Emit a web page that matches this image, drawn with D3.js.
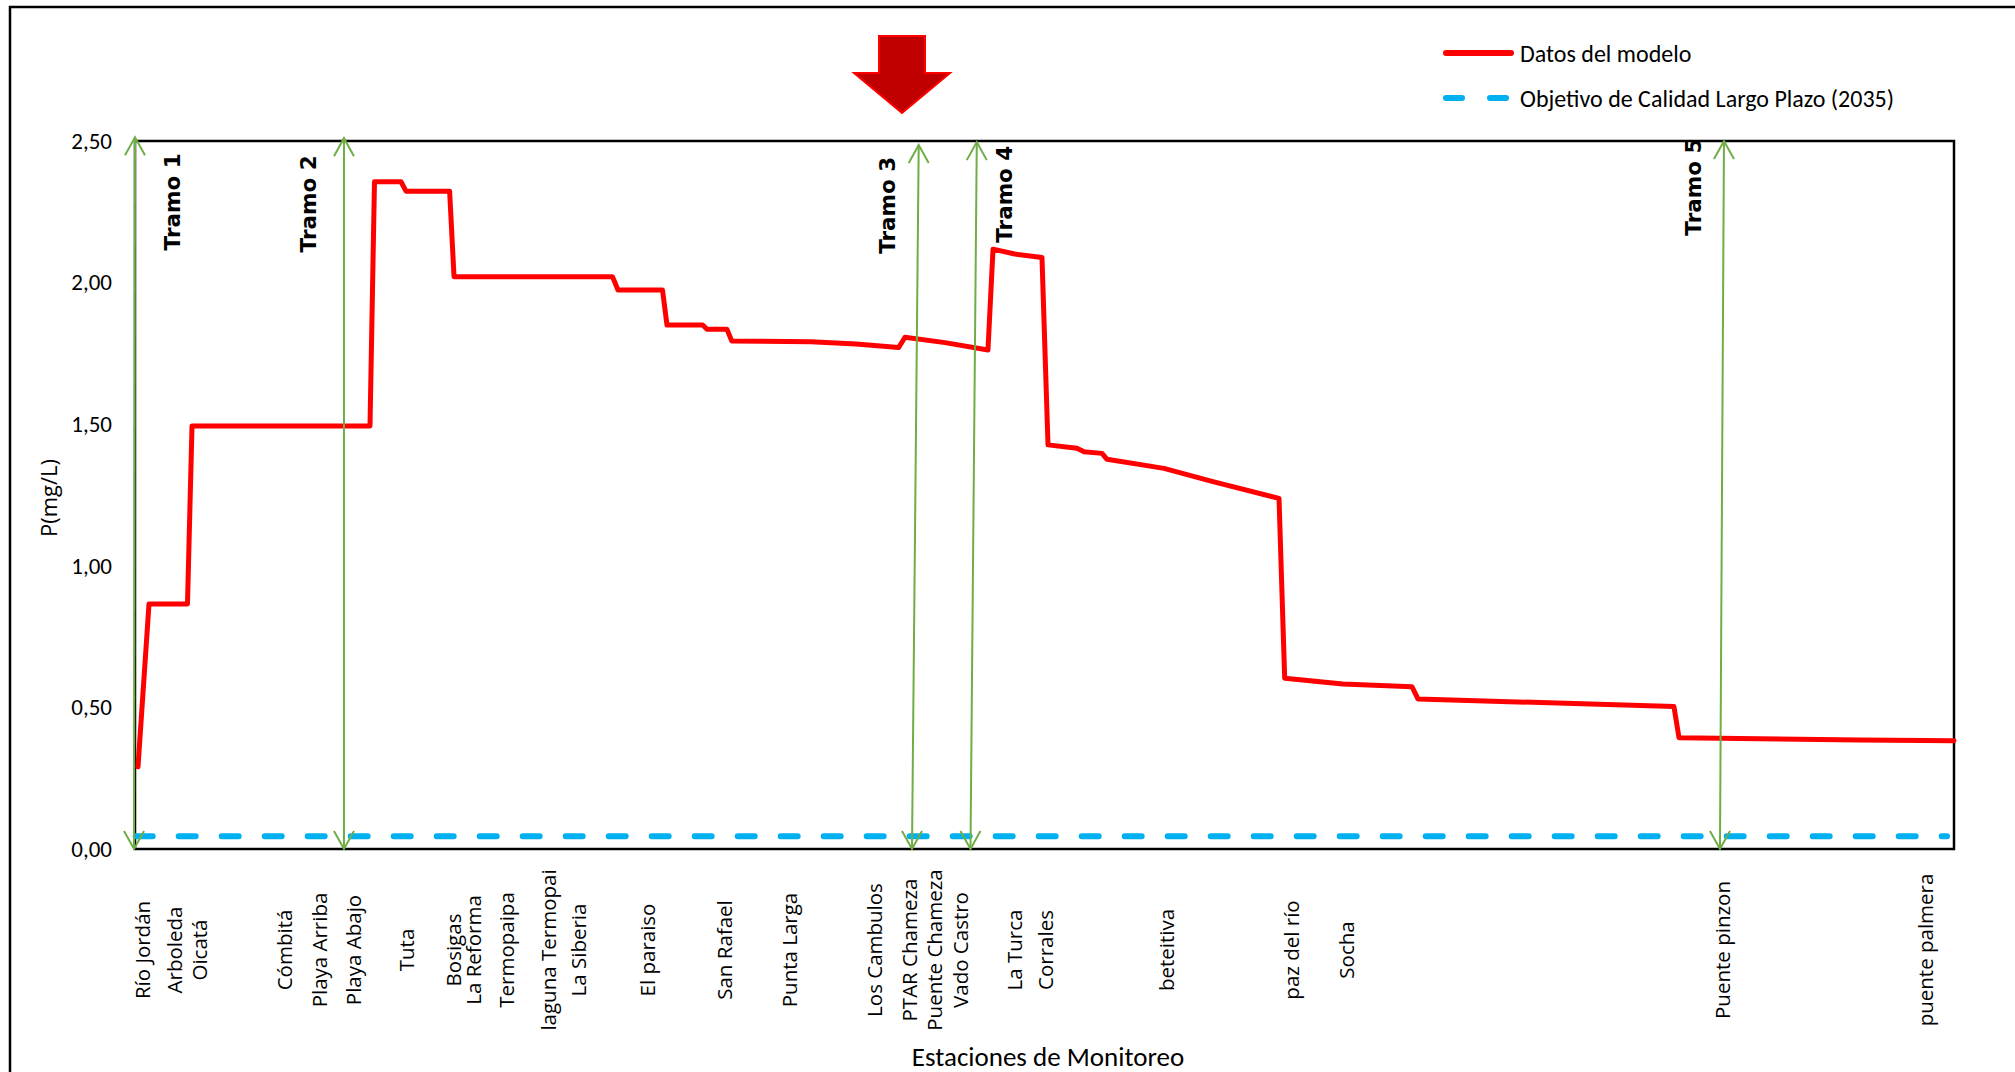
<!DOCTYPE html>
<html>
<head>
<meta charset="utf-8">
<script src="https://cdn.jsdelivr.net/npm/d3@7"></script>
<style>
  html, body { margin: 0; padding: 0; background: #fff; }
  svg { display: block; }
</style>
</head>
<body>
<svg id="chart" width="2015" height="1072"></svg>
<script>
// ---------------- DATA ----------------
// Model profile: abscissa (km along the river) and phosphorus (mg/L)
const modelKm = [0.43, 2.00, 7.50, 8.15, 33.59, 34.23, 38.02, 38.74, 44.97, 45.60,
  68.25, 69.04, 75.40, 76.04, 81.14, 81.76, 84.62, 85.29, 96.62, 103.06,
  109.16, 110.06, 115.78, 121.92, 122.64, 125.74, 129.64, 130.50, 134.64, 135.65,
  138.22, 138.94, 147.08, 154.08, 163.52, 164.33, 172.66, 182.52, 183.38, 219.97,
  220.69, 246.56, 260.0];
const modelP = [0.29, 0.865, 0.865, 1.494, 1.494, 2.356, 2.356, 2.323, 2.323, 2.021,
  2.021, 1.974, 1.974, 1.850, 1.850, 1.835, 1.835, 1.794, 1.791, 1.783,
  1.771, 1.807, 1.788, 1.762, 2.118, 2.101, 2.089, 1.427, 1.415, 1.403,
  1.397, 1.376, 1.344, 1.297, 1.238, 0.603, 0.583, 0.573, 0.530, 0.503,
  0.393, 0.385, 0.382];

// Long-term quality objective (2035)
const objectiveKm = [0.1, 259.0];
const objectiveP = [0.045, 0.045];

// Monitoring stations
const stationNames = ["Río Jordán", "Arboleda", "Oicatá", "Cómbitá", "Playa Arriba", "Playa Abajo",
  "Tuta", "Bosigas", "La Reforma", "Termopaipa", "laguna Termopai", "La Siberia",
  "El paraiso", "San Rafael", "Punta Larga", "Los Cambulos", "PTAR Chameza", "Puente Chameza",
  "Vado Castro", "La Turca", "Corrales", "beteitiva", "paz del río", "Socha",
  "Puente pinzon", "puente palmera"];
const stationKm = [1.00, 5.52, 9.08, 21.27, 26.30, 31.12,
  38.74, 45.42, 48.31, 53.03, 59.10, 63.38,
  73.18, 84.19, 93.48, 105.59, 110.60, 114.20,
  117.92, 125.64, 130.07, 147.37, 165.23, 173.09,
  226.83, 255.90];

// Reach (Tramo) boundaries
const tramoNames = ["Tramo 1", "Tramo 2", "Tramo 3", "Tramo 4", "Tramo 5"];
const tramoKmTop = [0.0, 29.87, 112.02, 120.32, 227.12];
const tramoKmBottom = [-0.14, 29.87, 111.06, 119.42, 226.55];
const tramoPTop = [2.513, 2.510, 2.486, 2.496, 2.500];
const tramoLabelKm = [5.40, 24.73, 107.63, 124.35, 222.83];
const tramoLabelP = [2.285, 2.278, 2.273, 2.312, 2.337];

const yTicks = [0, 0.5, 1.0, 1.5, 2.0, 2.5];

const legendLabels = ["Datos del modelo", "Objetivo de Calidad Largo Plazo (2035)"];

// ---------------- CHART ----------------
const svg = d3.select("#chart");
const M = { left: 135, right: 1954, top: 141, bottom: 849 };

const x = d3.scaleLinear().domain([0, 260]).range([M.left, M.right]);
const y = d3.scaleLinear().domain([0, 2.5]).range([M.bottom, M.top]);

const calibri = "Carlito, Lato, 'Open Sans', sans-serif";
const segoe = "'Open Sans', 'Noto Sans', sans-serif";

// outer frame (cropped on right and bottom)
svg.append("rect")
  .attr("x", 10).attr("y", 7)
  .attr("width", 2100).attr("height", 1200)
  .attr("fill", "none").attr("stroke", "#000").attr("stroke-width", 2.5);

// plot frame
svg.append("rect")
  .attr("x", M.left).attr("y", M.top)
  .attr("width", M.right - M.left).attr("height", M.bottom - M.top)
  .attr("fill", "none").attr("stroke", "#000").attr("stroke-width", 2.5);

// y axis
const yAxis = d3.axisLeft(y)
  .tickValues(yTicks)
  .tickSize(0)
  .tickPadding(23)
  .tickFormat(d => d3.format(".2f")(d).replace(".", ","));
const ya = svg.append("g").attr("transform", `translate(${M.left},0)`).call(yAxis);
ya.select(".domain").remove();
ya.selectAll("text")
  .attr("font-family", calibri).attr("font-size", 23).attr("fill", "#000");

// y title
svg.append("text")
  .attr("transform", `translate(48,${(M.top + M.bottom) / 2 + 3}) rotate(-90)`)
  .attr("text-anchor", "middle").attr("dominant-baseline", "central")
  .attr("font-family", segoe).attr("font-size", 22).attr("fill", "#000")
  .text("P(mg/L)");

// x title
svg.append("text")
  .attr("x", 1048).attr("y", 1056)
  .attr("text-anchor", "middle").attr("dominant-baseline", "central")
  .attr("font-family", calibri).attr("font-size", 27).attr("fill", "#000")
  .text("Estaciones de Monitoreo");

// station labels
svg.append("g").selectAll("text")
  .data(stationNames)
  .join("text")
  .attr("transform", (d, i) => `translate(${x(stationKm[i])},950) rotate(-90)`)
  .attr("text-anchor", "middle").attr("dominant-baseline", "central")
  .attr("font-family", segoe).attr("font-size", 20.5).attr("fill", "#000")
  .text(d => d);

// objective line
const objData = objectiveKm.map((k, i) => [k, objectiveP[i]]);
svg.append("path")
  .datum(objData)
  .attr("d", d3.line().x(d => x(d[0])).y(d => y(d[1])))
  .attr("fill", "none").attr("stroke", "#00B0F0").attr("stroke-width", 6)
  .attr("stroke-dasharray", "17,26").attr("stroke-linecap", "round");

// model line
const modelData = modelKm.map((k, i) => [k, modelP[i]]);
svg.append("path")
  .datum(modelData)
  .attr("d", d3.line().x(d => x(d[0])).y(d => y(d[1])))
  .attr("fill", "none").attr("stroke", "#FF0000").attr("stroke-width", 5)
  .attr("stroke-linejoin", "round").attr("stroke-linecap", "round");

// tramo arrows (double headed)
const green = "#70AD47";
const tg = svg.append("g");
tramoNames.forEach((name, i) => {
  const x1 = x(tramoKmTop[i]), y1 = y(tramoPTop[i]);
  const x2 = x(tramoKmBottom[i]), y2 = y(0);
  tg.append("line")
    .attr("x1", x1).attr("y1", y1).attr("x2", x2).attr("y2", y2)
    .attr("stroke", green).attr("stroke-width", 2);
  const hw = 10, hl = 18;
  tg.append("path")
    .attr("d", `M${x1 - hw},${y1 + hl} L${x1},${y1} L${x1 + hw},${y1 + hl}`)
    .attr("fill", "none").attr("stroke", green).attr("stroke-width", 2);
  tg.append("path")
    .attr("d", `M${x2 - hw},${y2 - hl} L${x2},${y2} L${x2 + hw},${y2 - hl}`)
    .attr("fill", "none").attr("stroke", green).attr("stroke-width", 2);
  tg.append("text")
    .attr("transform", `translate(${x(tramoLabelKm[i])},${y(tramoLabelP[i])}) rotate(-90)`)
    .attr("text-anchor", "middle").attr("dominant-baseline", "central")
    .attr("font-family", "'DejaVu Sans', Verdana, sans-serif").attr("font-weight", "bold")
    .attr("font-size", 21.5).attr("fill", "#000")
    .text(name);
});

// big red arrow pointing down
svg.append("path")
  .attr("d", "M879,36 L925,36 L925,73 L950,73 L902,113 L854,73 L879,73 Z")
  .attr("fill", "#C00000").attr("stroke", "#FF0000").attr("stroke-width", 2)
  .attr("stroke-linejoin", "miter");

// legend
const lg = svg.append("g");
lg.append("line").attr("x1", 1446).attr("x2", 1511).attr("y1", 53).attr("y2", 53)
  .attr("stroke", "#FF0000").attr("stroke-width", 6).attr("stroke-linecap", "round");
lg.append("line").attr("x1", 1446).attr("x2", 1508).attr("y1", 98).attr("y2", 98)
  .attr("stroke", "#00B0F0").attr("stroke-width", 6).attr("stroke-linecap", "round")
  .attr("stroke-dasharray", "16,28");
lg.selectAll("text.lab")
  .data(legendLabels)
  .join("text")
  .attr("class", "lab")
  .attr("x", 1520).attr("y", (d, i) => 53 + i * 45)
  .attr("dominant-baseline", "central")
  .attr("font-family", calibri).attr("font-size", 24).attr("fill", "#000")
  .text(d => d);
</script>
</body>
</html>
